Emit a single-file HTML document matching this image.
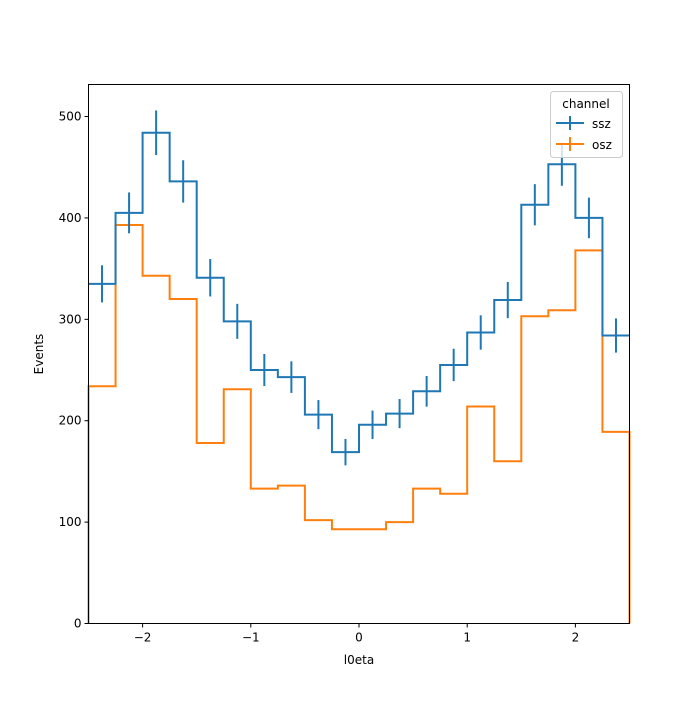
<!DOCTYPE html>
<html><head><meta charset="utf-8"><style>
body{margin:0;background:#fff;width:700px;height:700px;overflow:hidden}
svg text{font-family:"DejaVu Sans","Liberation Sans",sans-serif;font-size:12px;fill:#000}
</style></head><body>
<svg id="chart" width="700" height="700" viewBox="0 0 700 700" xmlns="http://www.w3.org/2000/svg">
<g id="plot"></g>
<g id="axes"></g>
<g>
<rect x="550.5" y="91.5" width="72" height="66" rx="3" fill="#fff" fill-opacity="0.8" stroke="#ccc"/>
<text x="586" y="108" text-anchor="middle">channel</text>
<g>
<line x1="556" y1="123" x2="584" y2="123" stroke="#1f77b4" stroke-width="2"/><line x1="570" y1="116" x2="570" y2="130" stroke="#1f77b4" stroke-width="2"/>
<text x="592" y="128">ssz</text></g>
<g>
<line x1="556" y1="144" x2="584" y2="144" stroke="#ff7f0e" stroke-width="2"/><line x1="570" y1="137" x2="570" y2="151" stroke="#ff7f0e" stroke-width="2"/>
<text x="592" y="149">osz</text></g>
</g>
</svg>
<script>
const binEdgesStart = -2.5, binWidth = 0.25;
const ssz = [335,405,484,436,341,298,250,243,206,169,196,207,229,255,287,319,413,453,400,284];
const osz = [234,393,343,320,178,231,133,136,102,93,93,100,133,128,214,160,303,309,368,189];
const xTicks = [-2,-1,0,1,2];
const xTickLabels = ["\u22122","\u22121","0","1","2"];
const yTicks = [0,100,200,300,400,500];
const L=88.5,R=629.5,T=84.5,B=623.5;
const X=v=>L+(v+2.5)/5*(R-L);
const Y=v=>B-v*(B-T)/531.6;
const NS="http://www.w3.org/2000/svg";
const plot=document.getElementById('plot'),axes=document.getElementById('axes');
function mk(tag,attrs,parent){const e=document.createElementNS(NS,tag);for(const k in attrs)e.setAttribute(k,attrs[k]);parent.appendChild(e);return e;}
// osz step histogram
let d=`M${X(binEdgesStart)},${Y(0)}`;
osz.forEach((v,i)=>{const x0=X(binEdgesStart+i*binWidth),x1=X(binEdgesStart+(i+1)*binWidth);d+=` L${x0},${Y(v)} L${x1},${Y(v)}`;});
d+=` L${X(binEdgesStart+osz.length*binWidth)},${Y(0)}`;
const po=mk('path',{d:d,fill:'none',stroke:'#ff7f0e','stroke-width':2},plot);


// ssz step
let d2='';
ssz.forEach((v,i)=>{const x0=X(binEdgesStart+i*binWidth),x1=X(binEdgesStart+(i+1)*binWidth);d2+=(i?' L':'M')+`${x0},${Y(v)} L${x1},${Y(v)}`;});
const ps=mk('path',{d:d2,fill:'none',stroke:'#1f77b4','stroke-width':2},plot);


ssz.forEach((v,i)=>{const xc=X(binEdgesStart+(i+0.5)*binWidth),e=Math.sqrt(v);
const l=mk('line',{x1:xc,x2:xc,y1:Y(v-e),y2:Y(v+e),stroke:'#1f77b4','stroke-width':2},plot);

});
// axes frame
const fr=mk('rect',{x:L,y:T,width:R-L,height:B-T,fill:'none',stroke:'#000','stroke-width':1},axes);


xTicks.forEach((v,i)=>{const x=X(v);mk('line',{x1:x,x2:x,y1:B,y2:B+4,stroke:'#000'},axes);
const t=mk('text',{x:x,y:B+18,'text-anchor':'middle'},axes);t.textContent=xTickLabels[i];

});
yTicks.forEach(v=>{const y=Y(v);mk('line',{x1:L-4,x2:L,y1:y,y2:y,stroke:'#000'},axes);
const t=mk('text',{x:L-7,y:y+4,'text-anchor':'end'},axes);t.textContent=v;

});
const xt=mk('text',{x:359,y:664,'text-anchor':'middle'},axes);xt.textContent='l0eta';


const yt=mk('text',{x:43,y:354,'text-anchor':'middle',transform:'rotate(-90 43 354)'},axes);yt.textContent='Events';


</script>
</body></html>
